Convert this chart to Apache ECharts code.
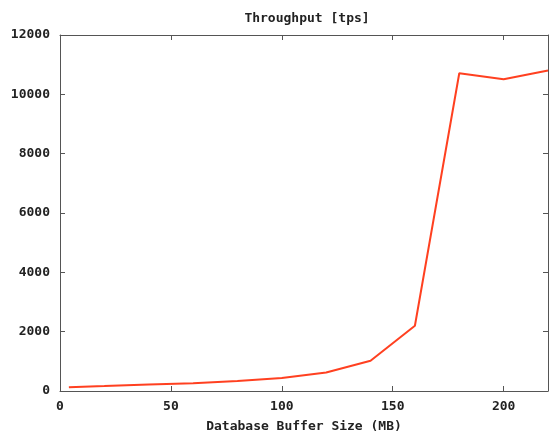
<!DOCTYPE html>
<html>
<head>
<meta charset="utf-8">
<script src="https://cdn.jsdelivr.net/npm/echarts@6/dist/echarts.min.js"></script>
<style>html,body{margin:0;padding:0;background:#fff}#c{width:549px;height:431px}</style>
</head>
<body>
<div id="c"></div>
<script>
const bufferSizes = [4, 20, 40, 60, 80, 100, 120, 140, 160, 180, 200, 220];
const throughput = [125, 165, 220, 265, 335, 440, 625, 1020, 2200, 10710, 10510, 10800];
const titleText = 'Throughput [tps]';
const xTitle = 'Database Buffer Size (MB)';

const font = 'DejaVu Sans Mono';
const axisCol = '#555';
const data = bufferSizes.map((x, i) => [x, throughput[i]]);

const chart = echarts.init(document.getElementById('c'), null, {renderer: 'canvas'});
const line = {show: true, onZero: false, lineStyle: {color: axisCol, width: 1}};
const tick = {show: true, inside: true, length: 5, lineStyle: {color: axisCol}};
const baseX = {type: 'value', min: 0, max: 220, interval: 50,
  axisLine: line, axisTick: tick, splitLine: {show: false}};
const baseY = {type: 'value', min: 0, max: 12000, interval: 2000,
  axisLine: line, axisTick: tick, splitLine: {show: false}};
const txt = {fontFamily: font, fontSize: 13, fontWeight: 'bold', color: '#222'};
chart.setOption({
  animation: false,
  backgroundColor: '#fff',
  title: {text: titleText, left: 302, top: 7, textAlign: 'center',
    textStyle: Object.assign({}, txt)},
  grid: {left: 60, right: 1, top: 35, bottom: 40, containLabel: false, outerBoundsMode: 'none'},
  xAxis: [
    Object.assign({}, baseX, {position: 'bottom', name: xTitle, nameLocation: 'middle', nameGap: 29,
      nameTextStyle: Object.assign({}, txt),
      axisLabel: Object.assign({show: true, showMaxLabel: false, margin: 9}, txt)}),
    Object.assign({}, baseX, {position: 'top', axisLabel: {show: false}})
  ],
  yAxis: [
    Object.assign({}, baseY, {position: 'left',
      axisLabel: Object.assign({show: true, margin: 10, formatter: v => String(v)}, txt)}),
    Object.assign({}, baseY, {position: 'right', axisLabel: {show: false}})
  ],
  series: [{type: 'line', data: data, xAxisIndex: 0, yAxisIndex: 0, symbol: 'none',
    lineStyle: {color: '#ff4020', width: 2}}]
});
</script>
</body>
</html>
